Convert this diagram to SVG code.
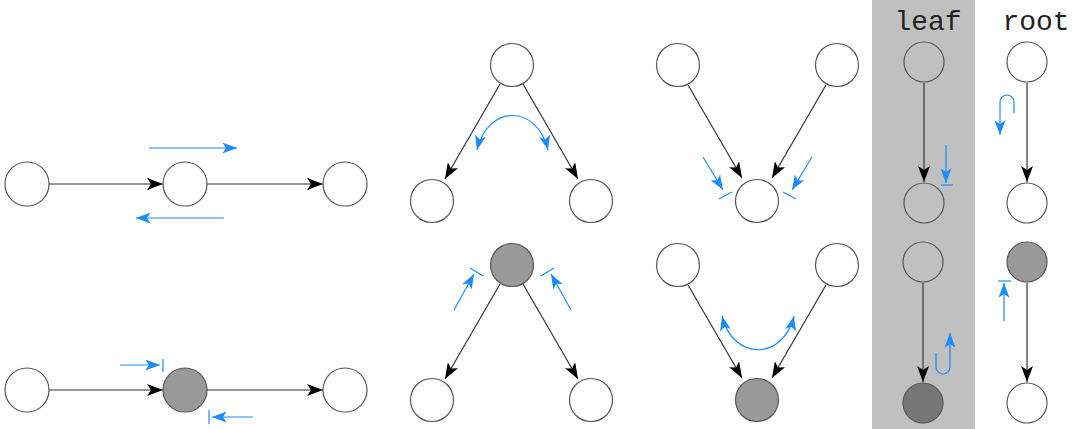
<svg xmlns="http://www.w3.org/2000/svg" width="1080" height="429" viewBox="0 0 1080 429">
<style>
.n{fill:#fff;stroke:#555;stroke-width:1.2}
.g{fill:#999;stroke:#555;stroke-width:1.2}
.d{fill:#777;stroke:#555;stroke-width:1.2}
.t{fill:none;stroke:#555;stroke-width:1.2}
.e{fill:none;stroke:#333;stroke-width:1.2;marker-end:url(#ah)}
.b{fill:none;stroke:#1a8cff;stroke-width:1.2}
.ba{fill:none;stroke:#1a8cff;stroke-width:1.2;marker-end:url(#bh)}
.bb{fill:none;stroke:#1a8cff;stroke-width:1.2;marker-end:url(#bh);marker-start:url(#bs)}
.lbl{font-family:"Liberation Mono",monospace;font-size:28px;fill:#222;text-anchor:middle}
</style>
<defs>
<marker id="ah" viewBox="0 0 16 12" refX="16" refY="6" markerWidth="16" markerHeight="12" markerUnits="userSpaceOnUse" orient="auto"><path d="M0,0 L16,6 L0,12 L4,6 z" fill="#000"/></marker>
<marker id="bh" viewBox="0 0 16 12" refX="16" refY="6" markerWidth="16" markerHeight="11" markerUnits="userSpaceOnUse" orient="auto"><path d="M0,0 L16,6 L0,12 L4,6 z" fill="#1a8cff"/></marker>
<marker id="bs" viewBox="0 0 16 12" refX="16" refY="6" markerWidth="16" markerHeight="11" markerUnits="userSpaceOnUse" orient="auto-start-reverse"><path d="M0,0 L16,6 L0,12 L4,6 z" fill="#1a8cff"/></marker>
</defs>
<rect x="872" y="0" width="103" height="429" fill="#c0c0c0"/>
<text class="lbl" x="928" y="30">leaf</text>
<text class="lbl" x="1036" y="30">root</text>
<g id="connectors">
<line class="e" x1="49" y1="184" x2="163" y2="184"/>
<line class="e" x1="207" y1="184" x2="323" y2="184"/>
<line class="e" x1="49" y1="390" x2="163" y2="390"/>
<line class="e" x1="207" y1="390" x2="323" y2="390"/>
<line class="e" x1="500" y1="84" x2="445" y2="179"/>
<line class="e" x1="523" y1="84" x2="578" y2="179"/>
<line class="e" x1="500" y1="284" x2="445" y2="379"/>
<line class="e" x1="523" y1="284" x2="578" y2="379"/>
<line class="e" x1="688" y1="85" x2="742" y2="178"/>
<line class="e" x1="826" y1="85" x2="772" y2="178"/>
<line class="e" x1="688" y1="285" x2="742" y2="378"/>
<line class="e" x1="826" y1="285" x2="772" y2="378"/>
<line class="e" x1="924" y1="83" x2="924" y2="182"/>
<line class="e" x1="1027" y1="83" x2="1027" y2="182"/>
<line class="e" x1="923" y1="283" x2="923" y2="382"/>
<line class="e" x1="1027" y1="283" x2="1027" y2="382"/>
</g>
<g id="flows">
<line class="ba" x1="149" y1="148" x2="237" y2="148"/>
<line class="ba" x1="224" y1="218" x2="136" y2="218"/>
<line class="ba" x1="120" y1="365" x2="160" y2="365"/>
<line class="b" x1="163" y1="359" x2="163" y2="372"/>
<line class="ba" x1="253" y1="417" x2="212" y2="417"/>
<line class="b" x1="209" y1="410" x2="209" y2="424"/>
<path class="bb" d="M477,150 C488,104 537,104 548,150"/>
<line class="ba" x1="454" y1="310" x2="474" y2="274"/>
<line class="b" x1="470" y1="268" x2="483" y2="276"/>
<line class="ba" x1="571" y1="310" x2="551" y2="274"/>
<line class="b" x1="541" y1="276" x2="554" y2="268"/>
<line class="ba" x1="703" y1="157" x2="723" y2="190"/>
<line class="b" x1="719" y1="199" x2="732" y2="192"/>
<line class="ba" x1="812" y1="157" x2="792" y2="190"/>
<line class="b" x1="783" y1="192" x2="796" y2="199"/>
<path class="bb" d="M722,316 C733,361 783,361 794,316"/>
<line class="ba" x1="946" y1="145" x2="946" y2="183"/>
<line class="b" x1="941" y1="185" x2="953" y2="185"/>
<path class="ba" d="M1014,113 L1014,102 A7,7 0 0 0 1000,102 L1000,135"/>
<path class="ba" d="M936,353 L936,367 A7,7 0 0 0 950,367 L950,333"/>
<line class="ba" x1="1004" y1="321" x2="1004" y2="283"/>
<line class="b" x1="998" y1="281" x2="1011" y2="281"/>
</g>
<g id="n1"><circle class="n" cx="27" cy="184" r="22"/></g>
<g id="n2"><circle class="n" cx="185" cy="184" r="22"/></g>
<g id="n3"><circle class="n" cx="345" cy="184" r="22"/></g>
<g id="n4"><circle class="n" cx="27" cy="390" r="22"/></g>
<g id="n5"><circle class="g" cx="185" cy="390" r="22"/></g>
<g id="n6"><circle class="n" cx="345" cy="390" r="22"/></g>
<g id="n7"><circle class="n" cx="512" cy="65" r="21.5"/></g>
<g id="n8"><circle class="n" cx="432" cy="201" r="21.5"/></g>
<g id="n9"><circle class="n" cx="591" cy="201" r="21.5"/></g>
<g id="n10"><circle class="g" cx="512" cy="265" r="21.5"/></g>
<g id="n11"><circle class="n" cx="432" cy="400" r="21.5"/></g>
<g id="n12"><circle class="n" cx="591" cy="400" r="21.5"/></g>
<g id="n13"><circle class="n" cx="678" cy="65" r="21.5"/></g>
<g id="n14"><circle class="n" cx="837" cy="65" r="21.5"/></g>
<g id="n15"><circle class="n" cx="757" cy="201" r="21.5"/></g>
<g id="n16"><circle class="n" cx="678" cy="265" r="21.5"/></g>
<g id="n17"><circle class="n" cx="837" cy="265" r="21.5"/></g>
<g id="n18"><circle class="g" cx="757" cy="400" r="21.5"/></g>
<g id="n19"><circle class="t" cx="924" cy="62" r="20"/></g>
<g id="n20"><circle class="t" cx="924" cy="203" r="20"/></g>
<g id="n21"><circle class="n" cx="1027" cy="62" r="20"/></g>
<g id="n22"><circle class="n" cx="1027" cy="203" r="20"/></g>
<g id="n23"><circle class="t" cx="923" cy="262" r="20"/></g>
<g id="n24"><circle class="d" cx="923" cy="403" r="20"/></g>
<g id="n25"><circle class="g" cx="1027" cy="262" r="20"/></g>
<g id="n26"><circle class="n" cx="1027" cy="403" r="20"/></g>
</svg>
